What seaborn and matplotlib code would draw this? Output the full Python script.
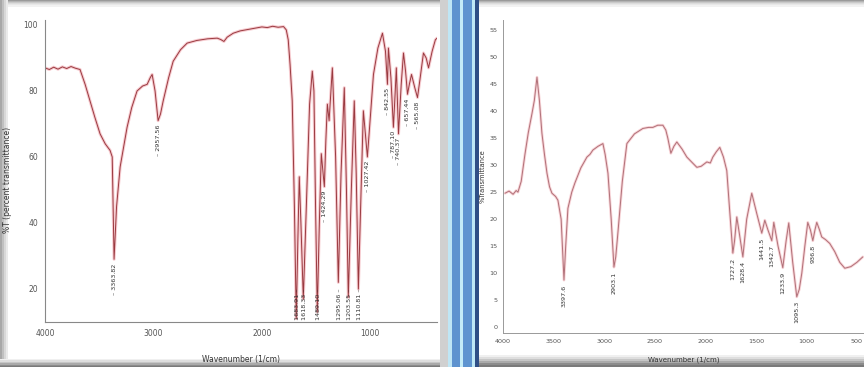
import numpy as np
import pandas as pd
import matplotlib
matplotlib.use("Agg")
import matplotlib.pyplot as plt
from matplotlib.patches import Rectangle
import seaborn as sns

# ---------------- data: left spectrum ----------------
left_wn = [4000, 3960, 3920, 3880, 3840, 3800, 3760, 3720, 3677, 3630, 3585, 3540, 3492, 3445,
           3400, 3380, 3363, 3340, 3307, 3275, 3243, 3200, 3151, 3100, 3058, 3030, 3012, 2985,
           2957, 2935, 2910, 2860, 2818, 2750, 2689, 2600, 2500, 2412, 2380, 2350, 2320, 2264,
           2200, 2100, 2000, 1950, 1900, 1850, 1800, 1775, 1757, 1740, 1720, 1700, 1683, 1668,
           1655, 1640, 1618, 1590, 1560, 1535, 1520, 1505, 1489, 1470, 1452, 1424, 1410, 1396,
           1380, 1350, 1320, 1295, 1270, 1240, 1220, 1203, 1175, 1148, 1130, 1110, 1085, 1064,
           1027, 1000, 971, 930, 888, 860, 842, 833, 810, 787, 770, 760, 740, 715, 694, 675,
           657, 640, 620, 590, 565, 540, 510, 485, 463, 430, 400, 385]
left_t = [87, 86.5, 87.2, 86.6, 87.3, 86.8, 87.4, 86.9, 86.5, 82, 77, 72, 67, 64,
          62, 60, 29, 45, 57, 63, 69, 75, 80, 81.5, 82, 84, 85, 80,
          71, 73, 77, 84, 89, 92.5, 94.5, 95.3, 95.8, 96, 95.6, 95, 96.3, 97.5,
          98.2, 98.8, 99.4, 99.2, 99.6, 99.3, 99.5, 98.5, 95.5, 88, 77, 45, 11, 35,
          54, 40, 17, 45, 76, 86, 80, 45, 13, 40, 61, 51, 65, 76,
          71, 87, 60, 22, 55, 81, 50, 17.5, 50, 77, 55, 20, 50, 74,
          60, 72, 85, 93, 97.5, 92, 82, 93, 84, 69, 80, 87, 67, 82, 91.5, 86,
          79, 82, 85, 81, 78, 84, 91.5, 90, 87, 92, 95.5, 96]

left_peak_wn = [3363, 2957, 1683, 1618, 1489, 1424, 1295, 1203, 1110, 1027, 842, 787, 740, 657, 565]
left_peak_t = [29, 71, 11, 17, 13, 51, 22, 17.5, 20, 60, 82, 69, 67, 79, 78]
left_peak_txt = ["3363.82", "2957.56", "1683.91", "1618.33", "1489.10", "1424.29", "1295.06",
                 "1203.55", "1110.81", "1027.42", "842.55", "787.10", "740.37", "657.44", "565.08"]

# ---------------- data: right spectrum ----------------
right_wn = [3980, 3940, 3900, 3870, 3852, 3820, 3783, 3750, 3713, 3690, 3664, 3640, 3615, 3590,
            3565, 3540, 3516, 3480, 3457, 3425, 3397, 3380, 3358, 3320, 3289, 3230, 3170, 3140,
            3111, 3060, 3012, 2990, 2962, 2930, 2903, 2885, 2864, 2820, 2775, 2700, 2617, 2560,
            2518, 2470, 2419, 2390, 2370, 2340, 2310, 2281, 2230, 2182, 2130, 2083, 2040, 1984,
            1950, 1925, 1890, 1856, 1820, 1787, 1760, 1727, 1710, 1688, 1660, 1628, 1590, 1540,
            1490, 1441, 1411, 1380, 1342, 1322, 1280, 1233, 1200, 1174, 1135, 1095, 1070, 1045,
            1015, 986, 960, 936, 915, 897, 870, 848, 810, 769, 720, 670, 620, 560, 500, 442]
right_t = [24.8, 25.2, 24.6, 25.3, 25.0, 27, 32, 36, 39.6, 42, 46.3, 42, 35.9, 32,
           28.5, 26, 24.8, 24.2, 23.5, 20, 8.7, 15, 22, 25, 26.7, 29.5, 31.5, 32,
           32.8, 33.5, 34, 32, 28.5, 20, 11.1, 13, 17.4, 27, 34, 35.8, 36.8, 37,
           37, 37.4, 37.4, 36.5, 35, 32.2, 33.5, 34.3, 33, 31.5, 30.5, 29.6, 29.8, 30.6,
           30.4, 31.5, 32.5, 33.3, 31.5, 29, 22, 13.7, 16, 20.4, 17, 13, 20, 24.8,
           21, 17.4, 19.8, 18, 16, 19.4, 15, 11, 16, 19.3, 12, 5.6, 7, 10,
           15, 19.4, 18, 16, 18, 19.4, 18, 16.7, 16.2, 15.5, 14, 12, 10.9, 11.2, 12, 13]

right_peak_wn = [3397, 2903, 1727, 1628, 1441, 1342, 1233, 1095, 936]
right_peak_t = [8.7, 11.1, 13.7, 13, 17.4, 16, 11, 5.6, 16]
right_peak_txt = ["3397.6", "2903.1", "1727.2", "1628.4", "1441.5", "1342.7", "1233.9", "1095.3", "936.8"]

left_xticks = [4000, 3000, 2000, 1000]
left_yticks = [20, 40, 60, 80, 100]
right_xticks = [4000, 3500, 3000, 2500, 2000, 1500, 1000, 500]
right_yticks = [0, 5, 10, 15, 20, 25, 30, 35, 40, 45, 50, 55]

df_left = pd.DataFrame({"wn": left_wn, "t": left_t})
df_right = pd.DataFrame({"wn": right_wn, "t": right_t})

sns.set_theme(style="white")
plt.rcParams["font.family"] = ["DejaVu Sans"]

W, H = 864, 367
fig = plt.figure(figsize=(W / 100, H / 100), dpi=100)
fig.patch.set_facecolor("white")


def frect(x0, y0, x1, y1, color, z=-1, alpha=1.0):
    # pixel coordinates (top-left origin) -> figure fraction
    fig.patches.append(Rectangle((x0 / W, 1 - y1 / H), (x1 - x0) / W, (y1 - y0) / H,
                                 transform=fig.transFigure, facecolor=color, edgecolor="none",
                                 zorder=z, alpha=alpha))

# frame decoration (screenshot borders)
for i, c in enumerate(["#9a9a9a", "#b4b4b4", "#cacaca", "#dcdcdc", "#e8e8e8", "#f2f2f2"]):
    frect(0, i, 448, i + 1.5, c)
    frect(478, i, W, i + 1.5, c)
for i, c in enumerate(["#a8a8a8", "#c0c0c0", "#d8d8d8", "#eaeaea"]):
    frect(i * 2, 0, i * 2 + 2, H, c)
for i, c in enumerate(["#f0f0f0", "#dedede", "#c6c6c6", "#aaaaaa", "#8c8c8c", "#7a7a7a"]):
    frect(0, 359 + i * 1.4, 448, 360.5 + i * 1.4, c)
    frect(478, 355 + i * 2, W, 357 + i * 2, c)
frect(440, 0, 448, H, "#d0d0d0")
# blue divider bars
frect(448, 0, 452, H, "#bfe6f5")
frect(452, 0, 460, H, "#5e93cf")
frect(460, 0, 463, H, "#c4ecf8")
frect(463, 0, 472, H, "#5f94d0")
frect(472, 0, 475, H, "#bfe8f6")
frect(475, 0, 479, H, "#2f4f86")

line_dark = "#9a3a40"
line_glow = "#f0a0a8"
tick_col = "#555555"

# ---------------- left axes ----------------
axL = fig.add_axes([45 / W, 1 - 322 / H, (437 - 45) / W, (322 - 20) / H])
axL.set_facecolor("none")
sns.lineplot(data=df_left, x="wn", y="t", ax=axL, sort=False, estimator=None,
             color=line_glow, linewidth=2.2, alpha=0.55)
sns.lineplot(data=df_left, x="wn", y="t", ax=axL, sort=False, estimator=None,
             color=line_dark, linewidth=0.7)
axL.set_xlim(4000, 385)
axL.set_ylim(10, 101.5)
axL.set_xticks(left_xticks)
axL.set_xticklabels([str(v) for v in left_xticks])
axL.set_xticks(np.arange(3800, 385, -200), minor=True)
axL.set_yticks(left_yticks)
axL.set_yticklabels([str(v) for v in left_yticks])
axL.set_yticks(np.arange(15, 101, 5), minor=True)
for s in ["top", "right"]:
    axL.spines[s].set_visible(False)
for s in ["left", "bottom"]:
    axL.spines[s].set_color("#888888")
    axL.spines[s].set_linewidth(0.8)
axL.tick_params(axis="both", which="major", direction="inout", length=4, width=0.8,
                colors=tick_col, labelsize=5.5, pad=3)
axL.tick_params(axis="both", which="minor", direction="inout", length=2.5, width=0.6,
                colors="#888888")
axL.set_xlabel("Wavenumber (1/cm)", fontsize=5.5, color="#333333", labelpad=12)
axL.set_ylabel("%T (percent transmittance)", fontsize=5.5, color="#333333", labelpad=5)
axL.yaxis.set_label_coords(-0.085, 0.47)
for wn, t, txt in zip(left_peak_wn, left_peak_t, left_peak_txt):
    if t < 25:
        axL.text(wn - 12, 10.6, txt + " –", rotation=90, ha="center", va="bottom",
                 fontsize=4.6, color="#333333")
    else:
        axL.text(wn, t - 1.2, "– " + txt, rotation=90, ha="center", va="top", fontsize=4.6,
                 color="#333333")

# ---------------- right axes ----------------
axR = fig.add_axes([503 / W, 1 - 333 / H, (W - 503) / W, (333 - 20) / H])
axR.set_facecolor("none")
sns.lineplot(data=df_right, x="wn", y="t", ax=axR, sort=False, estimator=None,
             color=line_glow, linewidth=2.0, alpha=0.45)
sns.lineplot(data=df_right, x="wn", y="t", ax=axR, sort=False, estimator=None,
             color="#b07078", linewidth=0.7)
axR.set_xlim(4000, 430)
axR.set_ylim(-1.1, 56.9)
axR.set_xticks(right_xticks)
axR.set_xticklabels([str(v) for v in right_xticks])
axR.set_xticks(np.arange(3900, 430, -100), minor=True)
axR.set_yticks(right_yticks)
axR.set_yticklabels([str(v) for v in right_yticks])
for s in ["top", "right"]:
    axR.spines[s].set_visible(False)
for s in ["left", "bottom"]:
    axR.spines[s].set_color("#999999")
    axR.spines[s].set_linewidth(0.7)
axR.tick_params(axis="both", which="major", direction="inout", length=4, width=0.7,
                colors=tick_col, labelsize=4.6, pad=2)
axR.tick_params(axis="x", which="minor", direction="inout", length=2.5, width=0.5,
                colors="#999999")
axR.set_xlabel("Wavenumber (1/cm)", fontsize=5, color="#333333", labelpad=9)
axR.set_ylabel("%Transmittance", fontsize=4.8, color="#333333", labelpad=3)
for wn, t, txt in zip(right_peak_wn, right_peak_t, right_peak_txt):
    axR.text(wn, t - 0.8, txt, rotation=90, ha="center", va="top", fontsize=4.6,
             color="#333333")

fig.savefig("out.png", dpi=100, facecolor=fig.get_facecolor())
